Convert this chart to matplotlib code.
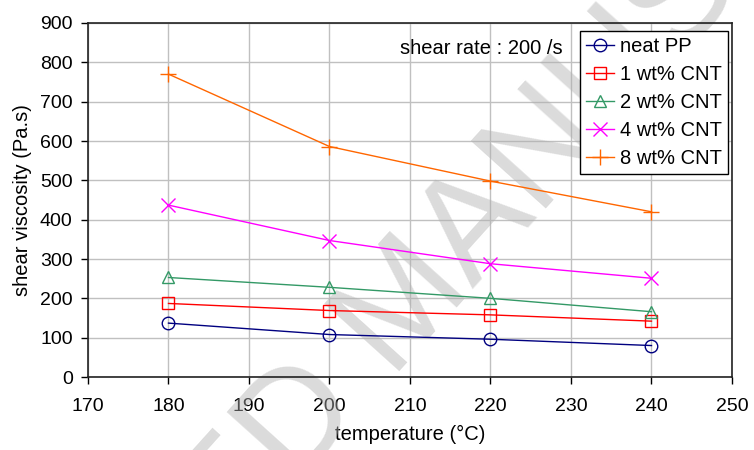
import matplotlib
matplotlib.use("Agg")
import matplotlib.pyplot as plt

plt.rcParams['font.family'] = ['Liberation Sans', 'DejaVu Sans']

temperature = [180, 200, 220, 240]
neat_pp = [137, 108, 96, 80]
cnt1 = [187, 169, 158, 142]
cnt2 = [253, 228, 200, 166]
cnt4 = [437, 347, 288, 251]
cnt8 = [770, 586, 498, 420]
labels = ["neat PP", "1 wt% CNT", "2 wt% CNT", "4 wt% CNT", "8 wt% CNT"]
xticks = [170, 180, 190, 200, 210, 220, 230, 240, 250]
yticks = [0, 100, 200, 300, 400, 500, 600, 700, 800, 900]

fig = plt.figure(figsize=(7.54, 4.5), dpi=100)
ax = fig.add_axes([0.1167, 0.1622, 0.8541, 0.7867])

series = [neat_pp, cnt1, cnt2, cnt4, cnt8]
colors = ["#000080", "#ff0000", "#339966", "#ff00ff", "#ff6600"]
markers = ["o", "s", "^", "x", "+"]
sizes = [9, 9, 9, 10, 11]
for vals, c, m, s, lab in zip(series, colors, markers, sizes, labels):
    ax.plot(temperature, vals, color=c, marker=m, markersize=s, markerfacecolor="none",
            markeredgecolor=c, markeredgewidth=1.0, linewidth=1.0, label=lab, zorder=3)

ax.set_xlim(170, 250)
ax.set_ylim(0, 900)
ax.set_xticks(xticks)
ax.set_yticks(yticks)
ax.grid(True, color="#c0c0c0", linewidth=1.0, zorder=0)
ax.set_axisbelow(True)
ax.tick_params(direction="out", length=5, labelsize=14, colors="black", width=1)
ax.tick_params(axis="x", pad=10)
ax.tick_params(axis="y", pad=6)
for sp in ax.spines.values():
    sp.set_color("#222222")
    sp.set_linewidth(1.2)

ax.set_xlabel("temperature (°C)", fontsize=14.5, labelpad=7)
ax.set_ylabel("shear viscosity (Pa.s)", fontsize=14.5, labelpad=6)

ax.text(229, 836, "shear rate : 200 /s", fontsize=14.5, ha="right", va="center", zorder=4)

leg = ax.legend(loc="upper right", bbox_to_anchor=(0.994, 0.977), fontsize=14.5,
                frameon=True, fancybox=False, edgecolor="black", framealpha=1,
                handlelength=1.4, handletextpad=0.3, labelspacing=0.45,
                borderpad=0.3, borderaxespad=0.0)
leg.get_frame().set_linewidth(1.0)
leg.set_zorder(5)

ax.text(0.54, 0.32, "ACCEPTED MANUSCRIPT", transform=fig.transFigure, clip_on=False,
        fontsize=105, color="#b0b0b0", alpha=0.45, rotation=48, ha="center",
        va="center", rotation_mode="anchor", zorder=1)

fig.savefig("out.png", dpi=100)
